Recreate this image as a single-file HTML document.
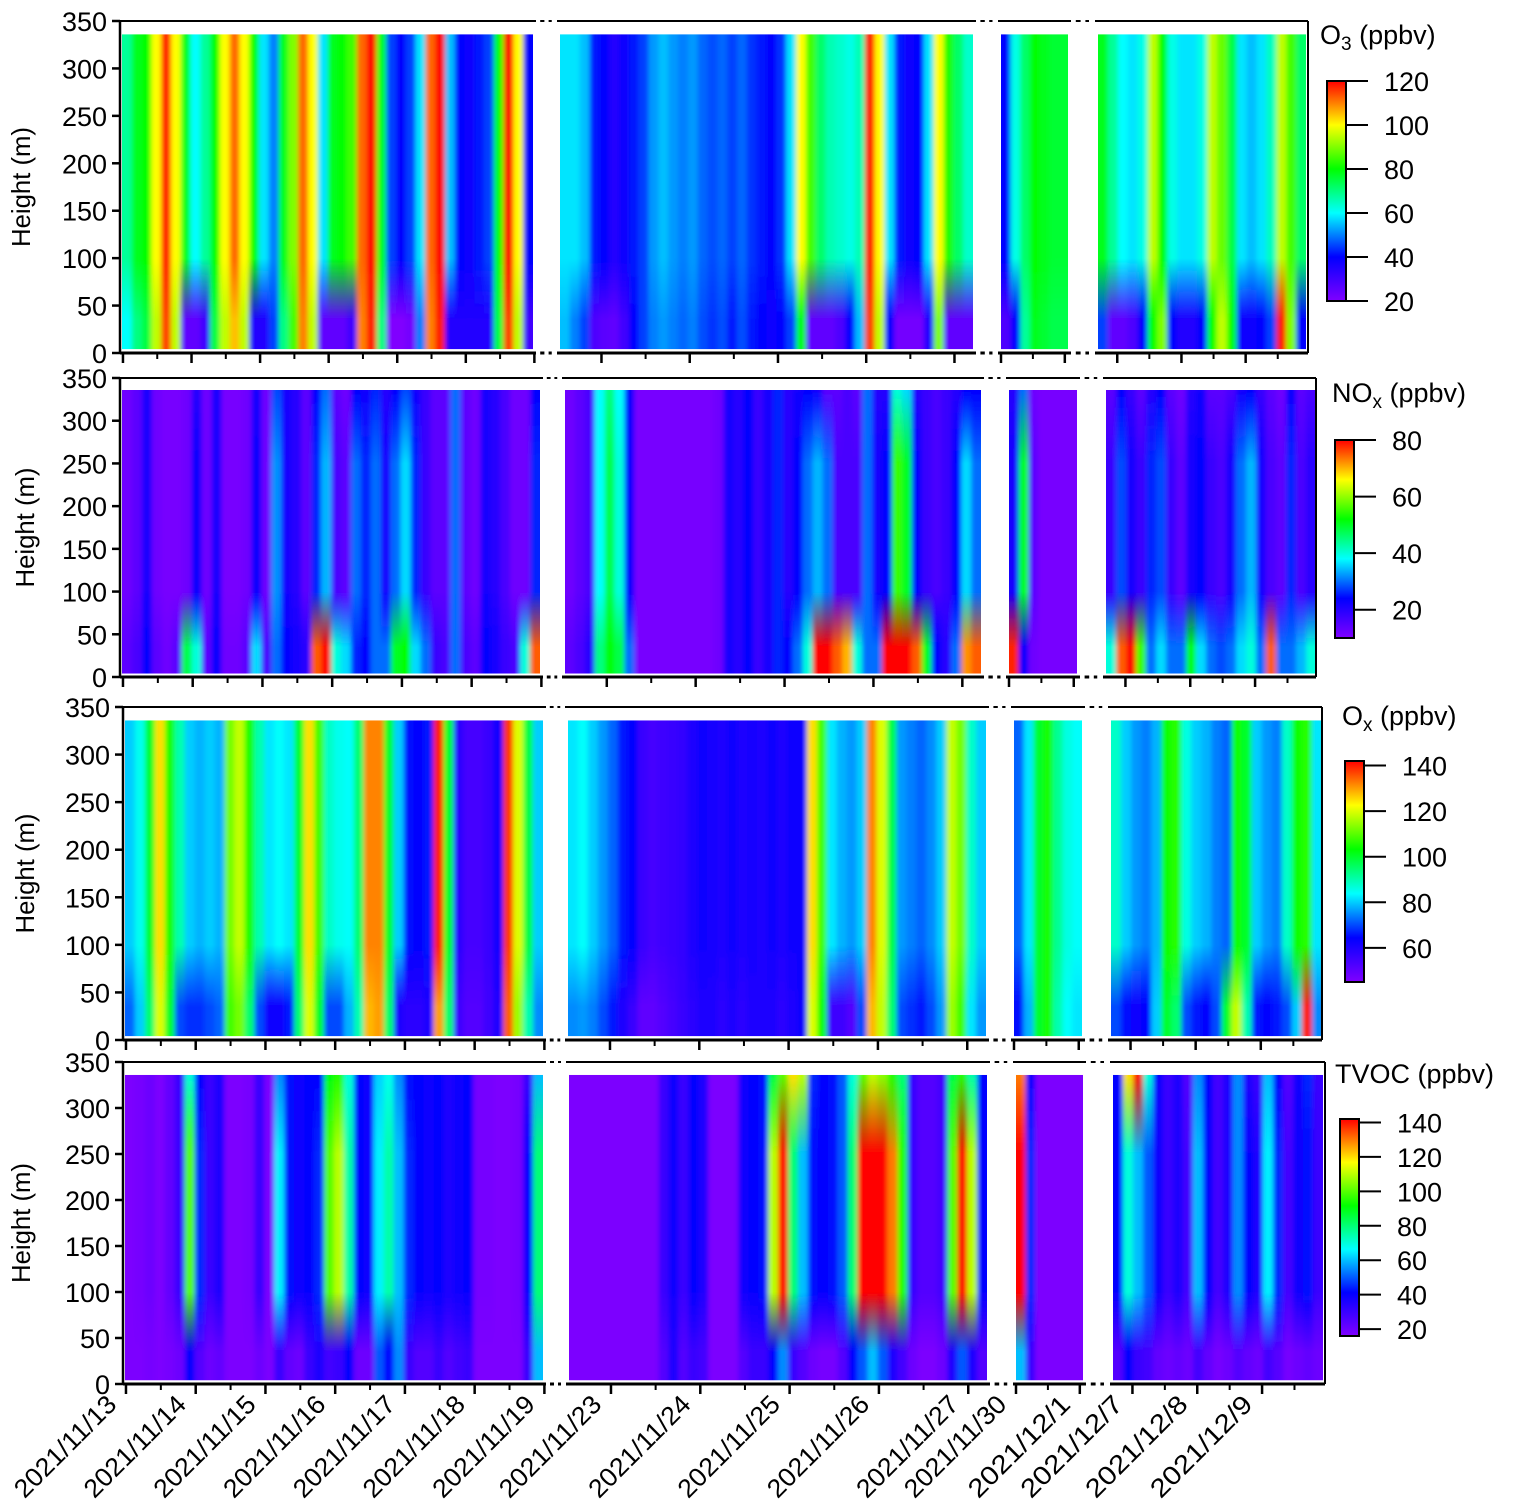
<!DOCTYPE html>
<html><head><meta charset="utf-8"><style>
html,body{margin:0;padding:0;background:#fff;}
svg{display:block;font-family:"Liberation Sans",Arial,sans-serif;}
</style></head><body>
<svg id="chart" width="1530" height="1506" viewBox="0 0 1530 1506" xmlns="http://www.w3.org/2000/svg">
<defs id="defs"></defs>
<g id="root"></g>
</svg>
<script>
// ---------- DATA ----------
const segDays = [[-0.014, 5.98], [9.53, 14.21], [17.0, 18.05], [23.7, 26.94]];
const majorTicks = [[0,1,2,3,4,5,6],[10,11,12,13,14],[17,18],[24,25,26]];
const minorTicks = [[0.5,1.5,2.5,3.5,4.5,5.5],[10.5,11.5,12.5,13.5],[17.5],[24.5,25.5,26.5]];
const dateLabels = [["2021/11/13","2021/11/14","2021/11/15","2021/11/16","2021/11/17","2021/11/18","2021/11/19"],
 ["2021/11/23","2021/11/24","2021/11/25","2021/11/26","2021/11/27"],["2021/11/30","2021/12/1"],["2021/12/7","2021/12/8","2021/12/9"]];
const heightTicks = [0,50,100,150,200,250,300,350];

// O3 (ppbv)
const o3Top1 = [68,78,80,100,118,100,78,60,68,80,100,112,100,80,58,50,78,90,112,100,58,78,80,85,112,120,78,45,40,45,58,112,120,55,40,38,42,45,80,120,100,40];
const o3Low1 = [60,70,75,95,115,95,25,25,30,75,95,105,95,35,35,45,70,85,110,95,25,25,25,30,110,118,70,20,20,22,50,110,118,35,35,35,35,35,75,115,95,30];
const o3Top2 = [58,58,55,42,40,35,38,42,45,52,55,52,50,52,48,46,48,45,48,44,42,40,44,58,100,85,72,66,64,62,66,118,100,58,42,38,40,58,100,82,72,64];
const o3Low2 = [55,50,45,28,26,25,30,40,45,50,52,50,48,50,46,44,46,42,46,42,40,38,40,45,80,25,25,25,28,40,55,115,95,40,22,22,22,35,90,25,25,25];
const o3Top3 = [40,62,72,80,78,76,76];
const o3Low3 = [28,40,68,78,76,74,74];
const o3Top4 = [78,68,60,58,62,95,80,62,58,58,62,95,88,75,58,55,58,65,95,85,72];
const o3Low4 = [45,25,25,28,40,80,90,40,35,35,40,80,95,80,38,38,40,45,118,90,40];

// NOx (ppbv)
const noxTop1 = [12,14,22,12,11,11,12,20,12,22,11,11,12,22,12,28,22,20,14,24,30,14,12,24,22,26,20,24,28,22,18,14,14,30,14,12,22,20,16,12,12,24];
const noxMid1 = [12,14,22,12,11,11,12,24,12,22,11,11,12,24,12,32,22,20,14,26,34,16,14,30,26,30,22,30,36,26,18,14,14,30,14,12,22,20,16,12,12,26];
const noxLow1 = [14,16,24,14,12,14,48,40,14,24,12,12,14,36,16,30,24,22,20,75,80,40,36,26,24,30,30,50,52,36,30,18,16,30,16,14,24,22,18,16,40,75];
const noxTop2 = [12,14,16,38,45,38,24,11,11,11,11,11,11,11,11,12,22,20,24,18,22,26,20,22,24,22,14,14,16,14,30,20,20,40,36,20,18,16,18,20,24,24];
const noxMid2 = [12,14,16,38,48,40,24,11,11,11,11,11,11,11,11,12,22,20,24,18,22,26,20,24,30,34,30,16,16,16,30,22,24,55,50,24,18,16,18,24,36,30];
const noxLow2 = [14,16,20,45,52,48,30,11,11,11,11,11,11,11,11,12,22,20,24,18,22,26,24,30,40,80,80,75,70,40,30,30,80,80,80,75,50,24,20,30,72,75];
const noxTop3 = [20,30,12,11,11,11,11];
const noxMid3 = [22,50,14,11,11,11,11];
const noxLow3 = [78,24,12,11,11,11,11];
const noxTop4 = [14,24,18,14,20,24,14,12,20,22,14,14,16,22,24,18,14,12,24,14,16];
const noxMid4 = [18,28,22,18,26,28,18,14,22,24,18,16,22,30,34,22,16,14,26,16,20];
const noxLow4 = [40,75,80,55,30,36,30,30,52,36,30,28,30,36,40,30,75,30,30,34,40];

// Ox (ppbv)
const oxTop1 = [80,85,100,125,105,90,80,78,80,78,112,118,105,90,82,84,82,100,125,108,88,85,84,95,132,132,100,80,65,64,66,140,100,58,54,54,56,62,138,120,98,80];
const oxLow1 = [72,80,95,120,100,70,68,68,70,72,108,112,95,70,62,62,66,95,120,100,70,70,78,90,128,130,95,60,58,58,60,130,95,55,52,52,55,60,135,115,90,75];
const oxTop2 = [82,84,80,76,72,66,64,56,54,55,56,57,60,62,61,60,62,60,61,60,62,60,62,63,125,108,82,78,76,80,132,120,98,76,74,72,75,80,118,112,88,80];
const oxLow2 = [75,76,74,70,66,60,56,50,50,52,54,56,58,60,60,58,60,58,60,60,60,58,60,62,120,104,55,55,52,70,128,118,95,70,68,66,70,76,115,108,82,76];
const oxTop3 = [72,82,100,105,92,86,84];
const oxLow3 = [65,78,100,105,90,84,82];
const oxTop4 = [88,80,76,74,78,104,106,86,80,78,74,72,104,100,80,76,74,88,104,106,82];
const oxLow4 = [70,65,62,64,80,100,95,70,66,64,70,100,118,90,66,64,66,70,80,140,75];

// TVOC (ppbv)
const tvTop1 = [17,18,20,17,22,30,70,40,30,35,17,17,18,30,17,55,42,38,40,40,90,95,70,40,38,62,68,55,42,40,38,40,36,38,40,18,18,17,17,18,30,60];
const tvMid1 = [17,18,20,17,22,30,100,45,30,35,17,17,18,30,17,65,42,38,40,45,100,110,75,40,38,65,75,60,45,40,38,40,36,38,40,18,18,17,17,18,40,80];
const tvLow1 = [17,17,18,17,18,20,40,25,20,22,17,17,17,20,17,30,22,20,30,35,28,30,40,20,20,50,40,55,30,25,25,30,25,28,30,17,17,17,17,17,30,60];
const tvTop2 = [17,17,17,17,17,17,17,17,17,30,38,30,40,35,17,17,17,38,40,42,85,100,120,110,45,40,42,50,70,100,110,105,95,80,30,25,25,28,85,95,75,40];
const tvMid2 = [17,17,17,17,17,17,17,17,17,30,38,30,40,35,17,17,17,38,40,42,110,142,80,60,42,40,42,50,80,142,142,142,130,95,30,25,25,28,100,142,110,40];
const tvLow2 = [17,17,17,17,17,17,17,17,17,25,35,25,30,28,17,17,17,25,30,30,40,55,30,25,20,18,18,25,40,50,60,50,35,28,20,17,17,20,35,50,35,25];
const tvTop3 = [130,40,17,17,17,17,17];
const tvMid3 = [142,45,17,17,17,17,17];
const tvLow3 = [60,30,17,17,17,17,17];
const tvTop4 = [40,120,140,70,40,30,35,25,55,40,28,35,55,35,30,60,40,25,38,45,30];
const tvMid4 = [40,70,60,50,38,30,35,28,60,40,28,35,55,40,35,65,45,28,38,42,30];
const tvLow4 = [25,40,30,28,22,20,22,20,28,22,18,20,25,22,20,28,24,18,20,22,20];

const o3Ticks = [20,40,60,80,100,120];
const noxTicks = [20,40,60,80];
const oxTicks = [60,80,100,120,140];
const tvTicks = [20,40,60,80,100,120,140];

// ---------- LAYOUT ----------
const panels = [
 {key:'o3', yTop:21, y0:353, ax:120, right:1308, segs:[[122,533],[560,973],[1001,1068],[1098,1306]], min:20, max:120,
  cbx:1327, cby1:81, cby2:301, ticks:o3Ticks, title:'O', sub:'3', tx:1320, ty:44, ylx:30, labels:false,
  top:[o3Top1,o3Top2,o3Top3,o3Top4], mid:[o3Top1,o3Top2,o3Top3,o3Top4], low:[o3Low1,o3Low2,o3Low3,o3Low4]},
 {key:'nox', yTop:378, y0:677, ax:120, right:1316, segs:[[122,540],[565,981],[1009,1077],[1106,1316]], min:10, max:80,
  cbx:1335, cby1:440, cby2:638, ticks:noxTicks, title:'NO', sub:'x', tx:1332, ty:402, ylx:34, labels:false,
  top:[noxTop1,noxTop2,noxTop3,noxTop4], mid:[noxMid1,noxMid2,noxMid3,noxMid4], low:[noxLow1,noxLow2,noxLow3,noxLow4]},
 {key:'ox', yTop:707, y0:1040, ax:123, right:1322, segs:[[125,543],[568,986],[1014,1082],[1111,1322]], min:45, max:142,
  cbx:1345, cby1:761, cby2:982, ticks:oxTicks, title:'O', sub:'x', tx:1342, ty:725, ylx:34, labels:false,
  top:[oxTop1,oxTop2,oxTop3,oxTop4], mid:[oxTop1,oxTop2,oxTop3,oxTop4], low:[oxLow1,oxLow2,oxLow3,oxLow4]},
 {key:'tvoc', yTop:1062, y0:1384, ax:123, right:1325, segs:[[125,543],[569,987],[1016,1083],[1113,1323]], min:16, max:142,
  cbx:1340, cby1:1119, cby2:1336, ticks:tvTicks, title:'TVOC', sub:'', tx:1335, ty:1083, ylx:30, labels:true,
  top:[tvTop1,tvTop2,tvTop3,tvTop4], mid:[tvMid1,tvMid2,tvMid3,tvMid4], low:[tvLow1,tvLow2,tvLow3,tvLow4]}
];

const NS = 'http://www.w3.org/2000/svg';
const defs = document.getElementById('defs');
const root = document.getElementById('root');
function mk(tag, attrs, parent){ const e=document.createElementNS(NS,tag); for(const k in attrs) e.setAttribute(k,attrs[k]); (parent||root).appendChild(e); return e; }

const cmapStops = [[0,[128,0,255]],[0.2,[0,0,255]],[0.4,[0,255,255]],[0.6,[0,255,0]],[0.8,[255,255,0]],[1,[255,0,0]]];
function cmap(t){
  t=Math.max(0,Math.min(1,t));
  for(let i=1;i<cmapStops.length;i++){
    if(t<=cmapStops[i][0]){
      const a=cmapStops[i-1], b=cmapStops[i]; const f=(t-a[0])/(b[0]-a[0]);
      const c=a[1].map((v,j)=>Math.round(v+(b[1][j]-v)*f));
      return 'rgb('+c.join(',')+')';
    }
  }
  return 'rgb(255,0,0)';
}

const flt = mk('filter',{id:'hblur',x:'-5%',y:'0%',width:'110%',height:'100%'},defs);
mk('feGaussianBlur',{stdDeviation:'2.5 0'},flt);

panels.forEach((p,pi)=>{
  const g = mk('g',{});
  
  
  const yScale = h => p.y0 - h*(p.y0-p.yTop)/350;
  const xScale = (si, d) => { const s=p.segs[si], dd=segDays[si]; return s[0] + (d-dd[0])/(dd[1]-dd[0])*(s[1]-s[0]); };
  const col = v => cmap((v-p.min)/(p.max-p.min));
  const hTop = 336, hBot = 4;
  const off = h => ((h-hBot)/(hTop-hBot));
  p.segs.forEach((s,si)=>{
    const cp = mk('clipPath',{id:'clip'+pi+'_'+si},defs);
    mk('rect',{x:s[0],y:yScale(hTop),width:s[1]-s[0],height:yScale(hBot)-yScale(hTop)},cp);
    const sg = mk('g',{'clip-path':'url(#clip'+pi+'_'+si+')'},g);
    
    
    const inner = mk('g',{filter:'url(#hblur)'},sg);
    const top=p.top[si], mid=p.mid[si], low=p.low[si];
    const n=top.length, w=(s[1]-s[0])/n;
    for(let i=0;i<n;i++){
      const id='gr'+pi+'_'+si+'_'+i;
      const lg = mk('linearGradient',{id:id,x1:0,y1:1,x2:0,y2:0},defs);
      [[0,low[i]],[35,low[i]],[100,mid[i]],[250,mid[i]],[336,top[i]]].forEach(st=>{
        mk('stop',{offset:Math.max(0,off(st[0])),'stop-color':col(st[1])},lg);
      });
      const x0 = (i===0)? s[0]-6 : s[0]+i*w;
      const x1 = (i===n-1)? s[1]+6 : s[0]+(i+1)*w+0.6;
      const r = mk('rect',{x:x0,y:yScale(hTop),width:x1-x0,height:yScale(hBot)-yScale(hTop),fill:'url(#'+id+')'},inner);
      
      
    }
  });
  const lines = mk('g',{stroke:'#000',fill:'none'},g);
  
  
  const brk = (y, sw) => {
    p.segs.forEach((s,si)=>{
      const a = si===0 ? p.ax : s[0]-3;
      const b = si===p.segs.length-1 ? p.right : s[1]+3;
      mk('line',{x1:a,y1:y,x2:b,y2:y,'stroke-width':sw},lines);
      if(si<p.segs.length-1){
        const gx = s[1]+3, nx = p.segs[si+1][0]-3, gw = nx-gx;
        mk('line',{x1:gx+gw*0.2,y1:y,x2:gx+gw*0.4,y2:y,'stroke-width':sw},lines);
        mk('line',{x1:gx+gw*0.6,y1:y,x2:gx+gw*0.75,y2:y,'stroke-width':sw},lines);
      }
    });
  };
  brk(p.yTop, 2);
  brk(p.y0, 3);
  mk('line',{x1:p.ax,y1:p.yTop,x2:p.ax,y2:p.y0+1,'stroke-width':2.5},lines);
  mk('line',{x1:p.right,y1:p.yTop,x2:p.right,y2:p.y0,'stroke-width':2},lines);
  heightTicks.forEach(h=>{
    const y=yScale(h);
    mk('line',{x1:p.ax-8,y1:y,x2:p.ax,y2:y,stroke:'#000','stroke-width':2.5},g);
    const t=mk('text',{x:p.ax-13,y:y+10,'text-anchor':'end','font-size':27,fill:'#000'},g);
    t.textContent=h;
    
    
  });
  const yl = mk('text',{x:0,y:0,transform:'translate('+p.ylx+','+((p.yTop+p.y0)/2)+') rotate(-90)','text-anchor':'middle','font-size':26,fill:'#000',textLength:120,lengthAdjust:'spacingAndGlyphs'},g);
  yl.textContent='Height (m)';
  
  
  p.segs.forEach((s,si)=>{
    majorTicks[si].forEach((d,k)=>{
      const x=xScale(si,d);
      mk('line',{x1:x,y1:p.y0,x2:x,y2:p.y0+10,stroke:'#000','stroke-width':2.5},g);
      if(p.labels){
        const t=mk('text',{x:0,y:0,transform:'translate('+(x-8)+','+(p.y0+22)+') rotate(-45)','text-anchor':'end','font-size':26,fill:'#000',textLength:132,lengthAdjust:'spacingAndGlyphs'},g);
        t.textContent=dateLabels[si][k];
        
        
      }
    });
    minorTicks[si].forEach(d=>{
      const x=xScale(si,d);
      mk('line',{x1:x,y1:p.y0,x2:x,y2:p.y0+6,stroke:'#000','stroke-width':2},g);
    });
  });
  const cb = mk('g',{},g);
  
  
  const cid='cb'+pi;
  const clg = mk('linearGradient',{id:cid,x1:0,y1:1,x2:0,y2:0},defs);
  cmapStops.forEach(st=>mk('stop',{offset:st[0],'stop-color':cmap(st[0])},clg));
  mk('rect',{x:p.cbx,y:p.cby1,width:19,height:p.cby2-p.cby1,fill:'url(#'+cid+')',stroke:'#000','stroke-width':2},cb);
  p.ticks.forEach(v=>{
    const y = p.cby2 - (v-p.min)/(p.max-p.min)*(p.cby2-p.cby1);
    mk('line',{x1:p.cbx+19,y1:y,x2:p.cbx+41,y2:y,stroke:'#000','stroke-width':2},cb);
    const t=mk('text',{x:p.cbx+57,y:y+10,'font-size':27,fill:'#000'},cb);
    t.textContent=v;
    
    
  });
  const tt = mk('text',{x:p.tx,y:p.ty,'font-size':27,fill:'#000'},cb);
  
  
  const t1=mk('tspan',{},tt); t1.textContent=p.title;
  if(p.sub){ const t2=mk('tspan',{'font-size':19,dy:6},tt); t2.textContent=p.sub; const t3=mk('tspan',{dy:-6},tt); t3.textContent=' (ppbv)'; }
  else { const t3=mk('tspan',{},tt); t3.textContent=' (ppbv)'; }
});
</script>
</body></html>
